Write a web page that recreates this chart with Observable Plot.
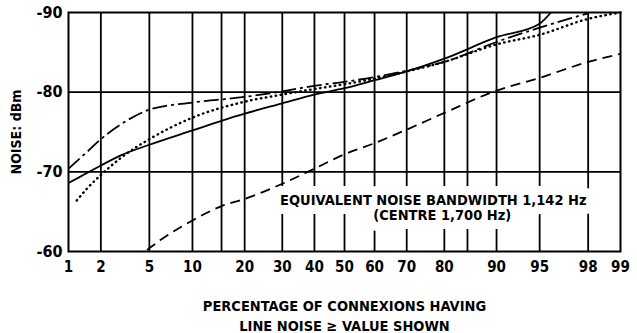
<!DOCTYPE html>
<html>
<head>
<meta charset="utf-8">
<script src="https://cdn.jsdelivr.net/npm/d3@7"></script>
<script src="https://cdn.jsdelivr.net/npm/@observablehq/plot@0.6"></script>
<style>
  html, body { margin: 0; padding: 0; background: #fff; }
  #chart { width: 637px; height: 333px; }
</style>
</head>
<body>
<div id="chart"></div>
<script>
// ---- Data ----
const tickPct = [1, 2, 5, 10, 20, 30, 40, 50, 60, 70, 80, 90, 95, 98, 99];
const gridPct = [2, 5, 10, 15, 20, 30, 40, 50, 60, 70, 80, 85, 90, 95, 98];
const yTicks = [-90, -80, -70, -60];
const yGrid = [-70, -80];

const solidPct = [1, 1.3, 2, 3, 5, 10, 15, 20, 30, 40, 50, 60, 70, 80, 90, 95, 95.9];
const solidDb  = [-68.6, -69.4, -70.8, -72.1, -73.4, -75.2, -76.4, -77.3, -78.6, -79.7, -80.5, -81.5, -82.6, -84.2, -86.9, -88.6, -90];

const chainPct = [1, 1.5, 2, 3, 5, 10, 20, 30, 40, 50, 60, 70, 80, 90, 95, 98];
const chainDb  = [-70.4, -72.5, -74.1, -76.0, -77.8, -78.7, -79.4, -80.1, -80.8, -81.3, -81.9, -82.7, -83.8, -86.3, -88.1, -89.9];

const dotPct = [1.2, 1.5, 2, 3, 5, 10, 20, 30, 40, 50, 60, 70, 80, 90, 95, 98, 99];
const dotDb  = [-66.4, -67.9, -69.6, -71.8, -74.1, -76.8, -78.8, -79.7, -80.4, -81.0, -81.7, -82.6, -83.8, -86.0, -87.2, -89.2, -90];

const dashPct = [4.8, 6, 10, 15, 20, 30, 40, 50, 60, 70, 80, 90, 95, 98, 99];
const dashDb  = [-60.2, -61.4, -63.9, -65.7, -66.6, -68.5, -70.4, -72.2, -73.6, -75.3, -77.4, -80.2, -81.8, -83.8, -84.8];

const noteLines = ["EQUIVALENT NOISE BANDWIDTH 1,142 Hz", "(CENTRE 1,700 Hz)"];
const notePct = [77.3, 79.5];
const noteDb = [-66.4, -64.5];

const yTitle = "NOISE: dBm";
const xTitle = "PERCENTAGE OF CONNEXIONS HAVING\nLINE NOISE \u2265 VALUE SHOWN";

// ---- normal probability (probit) transform ----
function probit(p) {
  const a = [-3.969683028665376e+01, 2.209460984245205e+02, -2.759285104469687e+02, 1.383577518672690e+02, -3.066479806614716e+01, 2.506628277459239e+00];
  const b = [-5.447609879822406e+01, 1.615858368580409e+02, -1.556989798598866e+02, 6.680131188771972e+01, -1.328068155288572e+01];
  const c = [-7.784894002430293e-03, -3.223964580411365e-01, -2.400758277161838e+00, -2.549732539343734e+00, 4.374664141464968e+00, 2.938163982698783e+00];
  const d = [7.784695709041462e-03, 3.224671290700398e-01, 2.445134137142996e+00, 3.754408661907416e+00];
  const pl = 0.02425, ph = 1 - pl;
  let q, r;
  if (p < pl) {
    q = Math.sqrt(-2 * Math.log(p));
    return (((((c[0]*q+c[1])*q+c[2])*q+c[3])*q+c[4])*q+c[5]) / ((((d[0]*q+d[1])*q+d[2])*q+d[3])*q+1);
  }
  if (p <= ph) {
    q = p - 0.5; r = q * q;
    return (((((a[0]*r+a[1])*r+a[2])*r+a[3])*r+a[4])*r+a[5])*q / (((((b[0]*r+b[1])*r+b[2])*r+b[3])*r+b[4])*r+1);
  }
  q = Math.sqrt(-2 * Math.log(1 - p));
  return -(((((c[0]*q+c[1])*q+c[2])*q+c[3])*q+c[4])*q+c[5]) / ((((d[0]*q+d[1])*q+d[2])*q+d[3])*q+1);
}
const px = pct => probit(pct / 100);

const toRows = (pcts, dbs) => pcts.map((p, i) => ({p, db: dbs[i]}));
const series = [
  {rows: toRows(solidPct, solidDb), dash: null},
  {rows: toRows(chainPct, chainDb), dash: "15,4,3,4"},
  {rows: toRows(dotPct, dotDb), dash: "0.5,4.5", cap: "round", width: 2.4},
  {rows: toRows(dashPct, dashDb), dash: "10,6"}
];
const notes = noteLines.map((t, i) => ({t, p: notePct[i], db: noteDb[i]}));

const FONT = "'DejaVu Sans Condensed', 'DejaVu Sans', sans-serif";

const chart = Plot.plot({
  width: 637,
  height: 333,
  marginLeft: 68,
  marginRight: 17,
  marginTop: 12,
  marginBottom: 82,
  style: {fontFamily: FONT, fontWeight: "bold", fontSize: "14px", color: "black", background: "white", fontStretch: "condensed"},
  x: {type: "linear", domain: [px(1), px(99)]},
  y: {domain: [-60, -90]},
  marks: [
    Plot.ruleX(gridPct, {x: px, stroke: "black", strokeWidth: 1.8}),
    Plot.ruleY(yGrid, {y: d => d, stroke: "black", strokeWidth: 1.6}),
    Plot.frame({stroke: "black", strokeWidth: 2}),
    // white knock-out behind the note
    Plot.text(notes, {x: d => px(d.p), y: "db", text: "t", fontSize: 14.5, fill: "white",
      stroke: "white", strokeWidth: 18, strokeLinejoin: "round"}),
    Plot.text(notes, {x: d => px(d.p), y: "db", text: "t", fontSize: 14.5, fill: "black"}),
    ...series.map(s => Plot.line(s.rows, {
      x: d => px(d.p), y: "db", stroke: "black", strokeWidth: s.width || 1.8,
      strokeDasharray: s.dash, strokeLinecap: s.cap || "butt", curve: "monotone-x"
    })),
    Plot.axisX({ticks: tickPct.map(px), tickFormat: (d, i) => String(tickPct[i]),
      tickSize: 0, tickPadding: 10, label: null, fontSize: 15}),
    Plot.axisY({ticks: yTicks, tickFormat: d => "-" + Math.abs(d), tickSize: 0, tickPadding: 6,
      label: null, fontSize: 16}),
    Plot.text([yTitle], {frameAnchor: "left", textAnchor: "middle", lineAnchor: "middle",
      rotate: -90, dx: -52, fontSize: 14, fill: "black"}),
    Plot.text([xTitle], {frameAnchor: "bottom", textAnchor: "middle", lineAnchor: "middle",
      dy: 63, lineHeight: 1.35, fontSize: 14.5, fill: "black"})
  ]
});
document.getElementById("chart").appendChild(chart);
</script>
</body>
</html>
